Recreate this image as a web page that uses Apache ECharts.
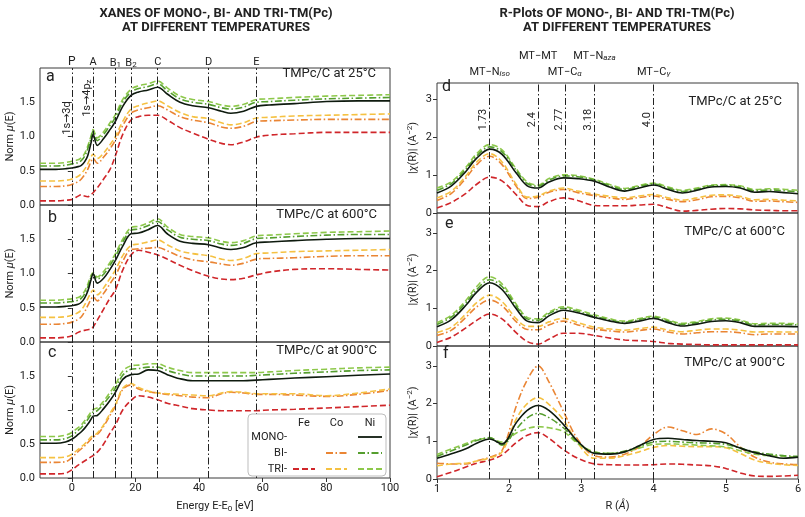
<!DOCTYPE html>
<html><head><meta charset="utf-8">
<script src="https://cdn.jsdelivr.net/npm/echarts@6/dist/echarts.min.js"></script>
<style>html,body{margin:0;padding:0;background:#fff}#c{width:805px;height:517px}</style>
</head><body><div id="c"></div>
<script>
// ---------- DATA ----------
const energyX = [-10,-5,-2,0,2,3,4,5,6,6.7,8,10,12,13.7,16,18.6,21,24,27,30,34,38,43,47,50,54,58,62,70,80,90,100];
// panel a: 25°C
const xanes25_niMono = [0.52,0.52,0.53,0.54,0.56,0.58,0.63,0.72,0.90,1.03,0.87,0.97,1.10,1.22,1.44,1.60,1.65,1.68,1.72,1.62,1.50,1.45,1.42,1.37,1.34,1.37,1.44,1.46,1.48,1.51,1.52,1.52];
const xanes25_niBi   = [0.57,0.57,0.58,0.60,0.62,0.65,0.71,0.82,0.97,1.08,0.94,1.03,1.16,1.28,1.50,1.65,1.70,1.73,1.77,1.67,1.55,1.50,1.47,1.42,1.40,1.43,1.50,1.51,1.53,1.55,1.56,1.57];
const xanes25_niTri  = [0.61,0.61,0.62,0.64,0.66,0.69,0.75,0.86,1.00,1.10,0.98,1.07,1.20,1.32,1.54,1.69,1.74,1.77,1.81,1.71,1.59,1.54,1.51,1.46,1.44,1.47,1.54,1.55,1.57,1.59,1.60,1.61];
const xanes25_coBi   = [0.27,0.27,0.28,0.30,0.34,0.38,0.44,0.52,0.63,0.68,0.61,0.70,0.82,0.95,1.16,1.34,1.39,1.42,1.45,1.39,1.29,1.24,1.20,1.14,1.12,1.15,1.22,1.23,1.24,1.25,1.25,1.25];
const xanes25_coTri  = [0.35,0.35,0.36,0.38,0.42,0.46,0.52,0.60,0.70,0.74,0.68,0.76,0.88,1.00,1.22,1.40,1.45,1.49,1.52,1.45,1.35,1.29,1.26,1.20,1.17,1.20,1.27,1.28,1.30,1.31,1.32,1.33];
const xanes25_feTri  = [0.06,0.06,0.07,0.08,0.13,0.15,0.13,0.12,0.15,0.18,0.25,0.38,0.52,0.72,1.03,1.24,1.29,1.31,1.31,1.24,1.13,1.05,0.96,0.90,0.88,0.92,0.99,1.02,1.04,1.06,1.06,1.06];
// panel b: 600°C
const xanes600_niMono = [0.51,0.51,0.52,0.53,0.55,0.58,0.64,0.74,0.90,1.00,0.86,0.93,1.06,1.19,1.40,1.58,1.59,1.64,1.70,1.58,1.47,1.44,1.42,1.37,1.35,1.38,1.45,1.46,1.48,1.50,1.51,1.51];
const xanes600_niBi   = [0.57,0.57,0.58,0.59,0.61,0.64,0.70,0.80,0.94,0.99,0.92,0.99,1.12,1.25,1.46,1.63,1.65,1.70,1.76,1.64,1.53,1.50,1.48,1.43,1.41,1.44,1.51,1.52,1.54,1.56,1.57,1.57];
const xanes600_niTri  = [0.61,0.61,0.62,0.63,0.65,0.68,0.74,0.84,0.97,1.01,0.95,1.03,1.16,1.29,1.50,1.67,1.69,1.74,1.80,1.68,1.57,1.54,1.52,1.47,1.45,1.48,1.55,1.56,1.58,1.60,1.61,1.62];
const xanes600_coBi   = [0.26,0.26,0.27,0.29,0.33,0.37,0.44,0.53,0.62,0.66,0.60,0.71,0.85,0.97,1.18,1.35,1.36,1.37,1.38,1.33,1.25,1.20,1.17,1.14,1.12,1.15,1.21,1.22,1.23,1.25,1.26,1.26];
const xanes600_coTri  = [0.36,0.36,0.37,0.39,0.43,0.47,0.54,0.63,0.72,0.76,0.69,0.79,0.93,1.05,1.26,1.41,1.43,1.46,1.49,1.42,1.33,1.29,1.26,1.21,1.19,1.22,1.29,1.30,1.32,1.33,1.34,1.35];
const xanes600_feTri  = [0.06,0.06,0.07,0.09,0.14,0.16,0.17,0.18,0.19,0.22,0.32,0.48,0.64,0.76,1.05,1.27,1.34,1.31,1.27,1.21,1.12,1.04,0.96,0.92,0.91,0.93,0.98,1.02,1.06,1.07,1.06,1.05];
// panel c: 900°C
const xanes900_niMono = [0.51,0.51,0.53,0.57,0.64,0.68,0.73,0.79,0.86,0.91,0.92,1.02,1.14,1.26,1.45,1.52,1.53,1.59,1.58,1.52,1.46,1.43,1.43,1.43,1.43,1.43,1.44,1.45,1.47,1.49,1.51,1.53];
const xanes900_niBi   = [0.56,0.56,0.58,0.62,0.70,0.74,0.80,0.86,0.93,0.97,0.99,1.09,1.21,1.32,1.51,1.60,1.61,1.63,1.63,1.58,1.53,1.50,1.50,1.50,1.50,1.50,1.51,1.52,1.54,1.56,1.58,1.59];
const xanes900_niTri  = [0.61,0.61,0.63,0.67,0.74,0.78,0.84,0.90,0.97,1.01,1.03,1.13,1.26,1.37,1.57,1.65,1.66,1.68,1.68,1.63,1.58,1.55,1.55,1.55,1.55,1.55,1.55,1.56,1.58,1.60,1.62,1.63];
const xanes900_coBi   = [0.23,0.23,0.24,0.30,0.39,0.43,0.47,0.52,0.57,0.60,0.64,0.76,0.92,1.06,1.30,1.37,1.31,1.27,1.25,1.23,1.21,1.19,1.18,1.24,1.26,1.25,1.23,1.23,1.22,1.20,1.23,1.29];
const xanes900_coTri  = [0.30,0.30,0.31,0.35,0.42,0.46,0.50,0.55,0.60,0.62,0.66,0.78,0.95,1.08,1.32,1.39,1.33,1.28,1.25,1.24,1.23,1.22,1.21,1.25,1.27,1.26,1.24,1.24,1.24,1.21,1.25,1.31];
const xanes900_feTri  = [0.06,0.06,0.07,0.12,0.19,0.22,0.25,0.28,0.31,0.33,0.38,0.50,0.66,0.78,1.00,1.14,1.21,1.19,1.15,1.10,1.06,1.02,1.00,0.99,0.99,0.99,0.99,1.00,1.01,1.03,1.05,1.07];

const rX = [1.0,1.2,1.4,1.55,1.73,1.9,2.1,2.25,2.4,2.55,2.75,2.95,3.18,3.4,3.6,3.8,4.0,4.2,4.4,4.6,4.8,5.0,5.2,5.4,5.6,5.8,6.0];
// panel d: 25°C
const r25_niMono = [0.53,0.72,1.10,1.45,1.69,1.55,1.05,0.72,0.66,0.82,0.93,0.91,0.84,0.68,0.58,0.66,0.74,0.62,0.53,0.60,0.69,0.70,0.66,0.55,0.57,0.54,0.51];
const r25_niBi   = [0.60,0.78,1.16,1.51,1.75,1.62,1.12,0.78,0.71,0.87,0.98,0.96,0.87,0.72,0.62,0.70,0.77,0.66,0.57,0.63,0.72,0.73,0.69,0.59,0.61,0.59,0.56];
const r25_niTri  = [0.66,0.83,1.21,1.57,1.81,1.67,1.16,0.82,0.74,0.91,1.01,0.99,0.89,0.75,0.65,0.73,0.79,0.69,0.60,0.66,0.74,0.75,0.72,0.62,0.64,0.63,0.60];
const r25_coBi   = [0.33,0.52,0.92,1.28,1.50,1.28,0.70,0.38,0.42,0.55,0.62,0.54,0.46,0.40,0.36,0.41,0.45,0.36,0.30,0.35,0.43,0.44,0.40,0.31,0.32,0.30,0.28];
const r25_coTri  = [0.40,0.58,0.98,1.35,1.57,1.35,0.75,0.42,0.45,0.58,0.66,0.58,0.50,0.44,0.40,0.45,0.49,0.40,0.34,0.40,0.47,0.48,0.44,0.35,0.36,0.34,0.32];
const r25_feTri  = [0.13,0.28,0.52,0.76,0.95,0.85,0.48,0.20,0.17,0.30,0.40,0.33,0.20,0.19,0.19,0.21,0.23,0.14,0.05,0.07,0.10,0.12,0.11,0.08,0.07,0.06,0.06];
// panel e: 600°C
const r600_niMono = [0.51,0.70,1.08,1.43,1.68,1.50,0.98,0.66,0.62,0.80,0.95,0.88,0.76,0.66,0.60,0.66,0.73,0.62,0.53,0.58,0.65,0.67,0.62,0.52,0.52,0.52,0.51];
const r600_niBi   = [0.57,0.77,1.15,1.50,1.76,1.58,1.05,0.72,0.68,0.86,1.00,0.92,0.79,0.69,0.63,0.70,0.76,0.66,0.57,0.62,0.69,0.71,0.66,0.56,0.57,0.57,0.56];
const r600_niTri  = [0.62,0.82,1.21,1.58,1.84,1.65,1.10,0.76,0.72,0.90,1.04,0.96,0.83,0.72,0.66,0.73,0.79,0.69,0.60,0.65,0.72,0.74,0.69,0.59,0.60,0.60,0.59];
const r600_coBi   = [0.28,0.42,0.76,1.04,1.22,1.07,0.64,0.44,0.43,0.56,0.66,0.56,0.45,0.40,0.37,0.41,0.45,0.37,0.32,0.35,0.38,0.38,0.35,0.30,0.32,0.32,0.32];
const r600_coTri  = [0.36,0.50,0.85,1.15,1.35,1.18,0.72,0.52,0.52,0.64,0.73,0.62,0.50,0.45,0.42,0.46,0.50,0.42,0.38,0.42,0.45,0.45,0.42,0.37,0.38,0.37,0.37];
const r600_feTri  = [0.09,0.24,0.48,0.68,0.85,0.72,0.35,0.12,0.05,0.18,0.34,0.34,0.28,0.21,0.16,0.14,0.12,0.07,0.05,0.04,0.03,0.03,0.03,0.03,0.03,0.03,0.03];
// panel f: 900°C
const r900_niMono = [0.55,0.67,0.80,0.95,1.06,0.93,1.50,1.82,1.95,1.82,1.45,1.00,0.68,0.66,0.72,0.88,1.05,1.08,1.05,1.02,1.00,0.96,0.82,0.70,0.62,0.55,0.58];
const r900_niBi   = [0.60,0.75,0.90,1.02,1.10,0.90,1.33,1.62,1.74,1.63,1.36,0.97,0.70,0.68,0.74,0.86,0.98,1.00,0.98,0.96,0.95,0.92,0.82,0.72,0.66,0.62,0.60];
const r900_niTri  = [0.65,0.80,0.94,1.04,1.08,0.98,1.22,1.34,1.39,1.36,1.26,0.94,0.72,0.68,0.72,0.82,0.92,0.93,0.92,0.90,0.88,0.85,0.75,0.66,0.62,0.60,0.58];
const r900_coBi   = [0.42,0.40,0.40,0.48,0.58,0.75,1.95,2.63,3.00,2.58,1.80,1.05,0.62,0.58,0.66,0.85,1.18,1.38,1.28,1.18,1.33,1.20,0.85,0.58,0.45,0.40,0.38];
const r900_coTri  = [0.35,0.40,0.42,0.48,0.56,0.72,1.60,2.00,2.16,1.98,1.57,0.95,0.55,0.55,0.62,0.72,0.84,0.89,0.87,0.86,0.86,0.83,0.68,0.50,0.42,0.38,0.36];
const r900_feTri  = [0.06,0.18,0.32,0.42,0.50,0.64,0.97,1.16,1.23,1.08,0.78,0.55,0.40,0.38,0.37,0.37,0.38,0.40,0.39,0.37,0.35,0.28,0.16,0.08,0.07,0.08,0.10];

const xanesMarkers = [0, 6.7, 13.7, 18.6, 27, 43, 58];
const xanesMarkerText = ['P','A','{n|B}{s|1}','{n|B}{s|2}','C','D','E'];
const rMarkers = [1.73, 2.4, 2.77, 3.18, 4.0];
const rMarkerValueText = ['1.73','2.4','2.77','3.18','4.0'];
const rMarkerText = ['{n|MT−N}{s|iso}','{n|MT−MT}','{n|MT−C}{s|α}','{n|MT−N}{s|aza}','{n|MT−C}{s|γ}'];
const rMarkerRow = [1,0,1,0,1];
const xTicksEnergy = [0,20,40,60,80,100];
const panelLetters = ['a','b','c','d','e','f'];
const panelTitles = ['TMPc/C at 25°C','TMPc/C at 600°C','TMPc/C at 900°C','TMPc/C at 25°C','TMPc/C at 600°C','TMPc/C at 900°C'];

// ---------- STYLE ----------
const FONT = 'Roboto, "Noto Sans", "DejaVu Sans", sans-serif';
const DASH = [6,3], DASHDOT = [7,2.5,1.5,2.5];
const sty = {
  feTri:  {color:'#d0262a', type:DASH, width:1.6},
  coBi:   {color:'#ea8534', type:DASHDOT, width:1.6},
  coTri:  {color:'#f5c142', type:DASH, width:1.6},
  niTri:  {color:'#8dc84a', type:DASH, width:1.6},
  niBi:   {color:'#559e2e', type:DASHDOT, width:1.6},
  niMono: {color:'#0e1a0e', type:'solid', width:1.6}
};
const order = ['feTri','coBi','coTri','niTri','niBi','niMono'];
const panelsData = [
  {x:energyX, d:{feTri:xanes25_feTri,coBi:xanes25_coBi,coTri:xanes25_coTri,niTri:xanes25_niTri,niBi:xanes25_niBi,niMono:xanes25_niMono}},
  {x:energyX, d:{feTri:xanes600_feTri,coBi:xanes600_coBi,coTri:xanes600_coTri,niTri:xanes600_niTri,niBi:xanes600_niBi,niMono:xanes600_niMono}},
  {x:energyX, d:{feTri:xanes900_feTri,coBi:xanes900_coBi,coTri:xanes900_coTri,niTri:xanes900_niTri,niBi:xanes900_niBi,niMono:xanes900_niMono}},
  {x:rX, d:{feTri:r25_feTri,coBi:r25_coBi,coTri:r25_coTri,niTri:r25_niTri,niBi:r25_niBi,niMono:r25_niMono}},
  {x:rX, d:{feTri:r600_feTri,coBi:r600_coBi,coTri:r600_coTri,niTri:r600_niTri,niBi:r600_niBi,niMono:r600_niMono}},
  {x:rX, d:{feTri:r900_feTri,coBi:r900_coBi,coTri:r900_coTri,niTri:r900_niTri,niBi:r900_niBi,niMono:r900_niMono}}
];

const grids = [
  {left:40, width:350, top:68, height:137},
  {left:40, width:350, top:205, height:137},
  {left:40, width:350, top:342, height:136},
  {left:437, width:361, top:83, height:130},
  {left:437, width:361, top:213, height:133},
  {left:437, width:361, top:346, height:133}
].map(g => Object.assign({show:true, borderColor:'#3a3a3a', borderWidth:1, outerBoundsMode:'none', containLabel:false}, g));
const yMax = [2,2,2,3.44,3.53,3.53];

const labelStyle = {color:'#222', fontSize:11, fontFamily:FONT};
const xAxes = grids.map((g,i) => {
  const left = i < 3, bottom = (i === 2 || i === 5);
  const ax = {type:'value', gridIndex:i, min: left ? -10 : 1, max: left ? 100 : 6,
    axisLine:{show:false}, splitLine:{show:false},
    axisTick:{show:bottom, length:4, lineStyle:{color:'#333'}},
    axisLabel:Object.assign({show:bottom, margin:5}, labelStyle)};
  if (left) { ax.interval = 10; ax.axisTick.customValues = xTicksEnergy; ax.axisLabel.customValues = xTicksEnergy; }
  else { ax.interval = 1; }
  if (i === 2) { ax.name = '{n|Energy E-E}{s|0}{n| [eV]}'; }
  if (i === 5) { ax.name = '{n|R (}{i|Å}{n|)}'; }
  if (bottom) Object.assign(ax, {nameLocation:'middle', nameGap:22,
     nameTextStyle:{rich:{n:{fontSize:11,color:'#222',fontFamily:FONT}, i:{fontSize:11,color:'#222',fontStyle:'italic',fontFamily:FONT}, s:{fontSize:8,color:'#222',fontFamily:FONT,padding:[5,0,0,0]}}}});
  return ax;
});
const yAxes = grids.map((g,i) => {
  const left = i < 3;
  return {type:'value', gridIndex:i, min:0, max:yMax[i], interval: left ? 0.5 : 1,
    axisLine:{show:false}, splitLine:{show:false},
    axisTick:{show:true, length:4, lineStyle:{color:'#333'}},
    axisLabel:Object.assign({showMaxLabel:false, margin:5, formatter: v => left ? v.toFixed(1) : String(v)}, labelStyle),
    name: left ? '{n|Norm }{i|μ}{n|(E)}' : '{n||}{i|χ}{n|(R)| (A}{p|−2}{n|)}',
    nameLocation:'middle', nameGap: left ? 22 : 17,
    nameTextStyle:{rich:{n:{fontSize:11,color:'#222',fontFamily:FONT}, i:{fontSize:11,color:'#222',fontStyle:'italic',fontFamily:FONT}, p:{fontSize:8,color:'#222',fontFamily:FONT,padding:[0,0,6,0]}}}
  };
});

const series = [];
panelsData.forEach((p,i) => {
  order.forEach(k => {
    const s = {type:'line', name:k, xAxisIndex:i, yAxisIndex:i, showSymbol:false, smooth:0.35,
      silent:true, data: p.x.map((x,j) => [x, p.d[k][j]]),
      lineStyle:{color:sty[k].color, type:sty[k].type, width:sty[k].width}, z: 3};
    if (k === 'niMono') {
      s.markLine = {silent:true, symbol:['none','none'], label:{show:false}, animation:false,
        lineStyle:{color:'#222', width:1, type:DASHDOT},
        data: (i < 3 ? xanesMarkers : rMarkers).map(v => ({xAxis:v}))};
    }
    series.push(s);
  });
});

const chart = echarts.init(document.getElementById('c'), null, {renderer:'canvas'});
chart.setOption({animation:false, backgroundColor:'#fff', grid:grids, xAxis:xAxes, yAxis:yAxes, series:series});

// ---------- ANNOTATIONS ----------
const G = [];
const base = {fill:'#222', fontFamily:FONT, fontSize:11, align:'center', verticalAlign:'middle'};
function T(x, y, text, extra, el) { G.push(Object.assign({type:'text', x:x, y:y, z:100, style:Object.assign({}, base, {text:text}, extra||{})}, el||{})); }
const subRich = {n:{fontSize:11, fill:'#222', fontFamily:FONT, verticalAlign:'bottom', lineHeight:14},
                 s:{fontSize:8, fill:'#222', fontFamily:FONT, fontStyle:'italic', verticalAlign:'bottom', lineHeight:12}};
const subRichUp = {n:{fontSize:11, fill:'#222', fontFamily:FONT, verticalAlign:'bottom', lineHeight:14},
                 s:{fontSize:8, fill:'#222', fontFamily:FONT, verticalAlign:'bottom', lineHeight:12}};
// titles
T(216, 14, 'XANES OF MONO-, BI- AND TRI-TM(Pc)', {fontSize:13, fontWeight:'bold'});
T(216, 28, 'AT DIFFERENT TEMPERATURES', {fontSize:13, fontWeight:'bold'});
T(617, 14, 'R-Plots OF MONO-, BI- AND TRI-TM(Pc)', {fontSize:13, fontWeight:'bold'});
T(617, 28, 'AT DIFFERENT TEMPERATURES', {fontSize:13, fontWeight:'bold'});
// top markers (XANES)
xanesMarkers.forEach((v,k) => {
  const px = chart.convertToPixel({gridIndex:0}, [v, 0])[0];
  T(px, 62, xanesMarkerText[k], {rich:subRichUp, fontSize: k===0 ? 12 : 11});
});
// rotated transitions in panel a
(function(){
  const p0 = chart.convertToPixel({gridIndex:0}, [0, 1.27]);
  T(p0[0]-5, p0[1], '1s→3d', {}, {rotation:Math.PI/2});
  const p1 = chart.convertToPixel({gridIndex:0}, [6.7, 1.56]);
  T(p1[0]-7, p1[1], '{n|1s→4p}{s|z}', {rich:subRichUp}, {rotation:Math.PI/2});
})();
// R markers
rMarkers.forEach((v,k) => {
  const px = chart.convertToPixel({gridIndex:3}, [v, 0])[0];
  T(px, rMarkerRow[k] ? 71 : 55, rMarkerText[k], {rich:subRich});
  const p = chart.convertToPixel({gridIndex:3}, [v, 2.47]);
  T(p[0]-6, p[1], rMarkerValueText[k], {}, {rotation:Math.PI/2});
});
// panel letters & titles
const letterPos = [[46,77],[48,218],[48,353],[442,87],[445,224],[443,354]];
const titlePos = [[376,74],[377,215],[377,351],[782,102],[785,232],[785,363]];
panelLetters.forEach((l,k) => {
  T(letterPos[k][0], letterPos[k][1], l, {fontSize:16, align:'left'});
  T(titlePos[k][0], titlePos[k][1], panelTitles[k], {fontSize:13, align:'right'});
});
// legend (Fe / Co / Ni  x  MONO / BI / TRI)
G.push({type:'rect', z:99, shape:{x:248, y:414, width:138, height:62, r:4}, style:{fill:'#fff', stroke:'#bdbdbd', lineWidth:1}});
const colX = {Fe:[293,315], Co:[326,347], Ni:[358,382]};
const rowY = {MONO:437, BI:453, TRI:469};
['Fe','Co','Ni'].forEach(c => T((colX[c][0]+colX[c][1])/2, 423, c));
[['MONO','MONO-'],['BI','BI-'],['TRI','TRI-']].forEach(r => T(287, rowY[r[0]], r[1], {align:'right'}));
const legendItems = [['Ni','MONO','niMono'],['Co','BI','coBi'],['Ni','BI','niBi'],['Fe','TRI','feTri'],['Co','TRI','coTri'],['Ni','TRI','niTri']];
legendItems.forEach(it => {
  const s = sty[it[2]];
  G.push({type:'line', z:100, shape:{x1:colX[it[0]][0], y1:rowY[it[1]], x2:colX[it[0]][1], y2:rowY[it[1]]},
    style:{stroke:s.color, lineWidth:1.8, lineDash: s.type === 'solid' ? null : s.type}});
});
chart.setOption({graphic: G});
</script></body></html>
